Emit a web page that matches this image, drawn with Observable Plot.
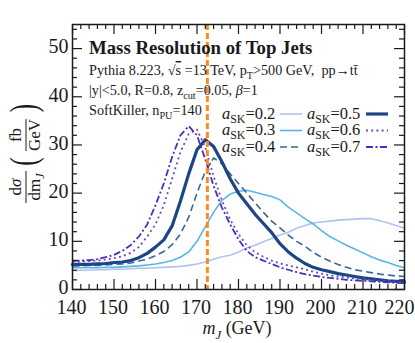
<!DOCTYPE html>
<html><head><meta charset="utf-8">
<script src="https://cdn.jsdelivr.net/npm/d3@7"></script>
<script src="https://cdn.jsdelivr.net/npm/@observablehq/plot@0.6"></script>
<style>html,body{margin:0;padding:0;background:#fff}svg{display:block}</style>
</head><body><div id="chart"></div>
<script>
// ---- data ----
const mJ = [140,142,144,146,148,150,152,154,156,158,160,162,164,166,168,170,172,174,176,178,180,
            182,184,186,188,190,192,194,196,198,200,202,204,206,208,210,212,214,216,218,220];
const aSK02 = [3.9,4.0,4.0,4.1,4.1,4.2,4.2,4.3,4.4,4.4,4.5,4.6,4.7,4.8,5.0,5.3,5.7,6.3,6.8,7.1,7.8,
               8.6,9.2,9.9,10.6,11.3,11.9,12.7,13.3,13.8,14.0,14.2,14.4,14.5,14.6,14.7,14.7,14.3,13.8,13.3,12.7];
const aSK03 = [4.5,4.5,4.5,4.5,4.6,4.6,4.7,4.8,4.9,5.1,5.3,5.6,6.0,6.7,7.8,10.0,13.0,16.0,18.5,19.8,20.4,
               20.6,20.2,19.7,19.3,18.6,17.1,15.9,14.7,13.6,12.2,11.0,10.1,9.2,8.4,7.6,6.8,6.1,5.6,5.0,4.5];
const aSK04 = [4.9,4.9,5.0,5.0,5.1,5.2,5.3,5.5,5.9,6.3,7.0,7.9,9.3,11.5,15.0,20.0,24.5,27.3,26.1,24.0,22.0,
               20.0,18.0,16.0,14.2,12.8,11.3,10.0,9.0,7.7,6.7,5.9,5.2,4.6,4.1,3.8,3.5,3.2,3.0,2.8,2.7];
const aSK05 = [5.2,5.2,5.2,5.3,5.4,5.6,5.7,6.0,6.6,7.5,8.8,10.3,13.2,18.3,24.0,29.0,31.1,29.7,26.5,23.0,20.0,
               17.8,15.6,13.7,11.8,9.5,7.8,6.5,5.4,4.6,4.1,3.7,3.3,3.0,2.7,2.4,2.2,2.0,1.8,1.7,1.6];
const aSK06 = [5.8,5.8,5.9,6.0,6.2,6.5,6.9,7.6,8.8,11.0,13.5,17.5,23.0,28.5,32.3,33.2,29.5,23.5,18.5,14.5,11.5,
               9.2,7.7,6.8,6.0,5.4,5.0,4.6,4.2,3.7,3.3,2.9,2.7,2.5,2.3,2.1,2.0,1.8,1.7,1.6,1.5];
const aSK07 = [6.0,6.0,6.1,6.3,6.7,7.2,8.0,9.2,11.0,13.5,17.5,22.0,27.5,32.0,33.9,32.0,27.0,21.5,17.0,13.5,10.4,
               8.0,6.7,6.0,5.3,4.6,4.1,3.6,3.2,2.9,2.6,2.4,2.2,2.0,1.9,1.8,1.7,1.6,1.5,1.4,1.3];
const seriesNames = ["0.2","0.3","0.4","0.5","0.6","0.7"];
const seriesValues = [aSK02,aSK03,aSK04,aSK05,aSK06,aSK07];
const topMass = 172.5;
const xTicks = [140,150,160,170,180,190,200,210,220];
const yTicks = [0,10,20,30,40,50];
const xMinor = [142,144,146,148,152,154,156,158,162,164,166,168,172,174,176,178,182,184,186,188,
                192,194,196,198,202,204,206,208,212,214,216,218];
const yMinor = [2,4,6,8,12,14,16,18,22,24,26,28,32,34,36,38,42,44,46,48,52,54];

// ---- styles ----
const styles = [
  {color:"#b2c2ef", width:1.6, dash:null},
  {color:"#58b6e6", width:1.6, dash:null},
  {color:"#3d6794", width:1.6, dash:"7,4"},
  {color:"#1b4584", width:3.2, dash:null},
  {color:"#6a4cb4", width:1.8, dash:"2,3.2"},
  {color:"#4a2ec4", width:1.8, dash:"7,2.5,2,2.5"}
];
const W = 415, H = 343, mL = 72, mR = 11, mT = 24, mB = 54;
const fw = W - mL - mR, fh = H - mT - mB;
const serif = "'Liberation Serif','Times New Roman',serif";
const ink = "#1a1a1a";

const table = seriesNames.map((n,i)=> mJ.map((m,j)=>({m, v: seriesValues[i][j], s: n})));

const marks = [];
table.forEach((rows,i)=>{
  const st = styles[i];
  marks.push(Plot.line(rows, {x:"m", y:"v", stroke: st.color, strokeWidth: st.width,
    strokeDasharray: st.dash, strokeLinejoin:"round", strokeLinecap: st.dash ? "butt" : "round"}));
});
marks.push(Plot.ruleX([topMass], {x: d=>d, stroke:"#ff8a1c", strokeWidth:3, strokeDasharray:"6,3"}));
// inward ticks on all four sides
const tk = {stroke: ink, strokeWidth: 1.2};
marks.push(Plot.tickX(xTicks, {x:d=>d, insetTop: fh-10, ...tk}));
marks.push(Plot.tickX(xTicks, {x:d=>d, insetBottom: fh-10, ...tk}));
marks.push(Plot.tickX(xMinor, {x:d=>d, insetTop: fh-5, ...tk}));
marks.push(Plot.tickX(xMinor, {x:d=>d, insetBottom: fh-5, ...tk}));
marks.push(Plot.tickY(yTicks, {y:d=>d, insetRight: fw-10, ...tk}));
marks.push(Plot.tickY(yTicks, {y:d=>d, insetLeft: fw-10, ...tk}));
marks.push(Plot.tickY(yMinor, {y:d=>d, insetRight: fw-5, ...tk}));
marks.push(Plot.tickY(yMinor, {y:d=>d, insetLeft: fw-5, ...tk}));
const axFont = {fontSize:20, fontFamily:serif, label:null, fill: ink, tickSize:0};
marks.push(Plot.axisX(xTicks.slice(0,-1), {...axFont, tickPadding:10, dx:-1}));
marks.push(Plot.axisX(xTicks.slice(-1), {...axFont, tickPadding:10, dx:-5}));
marks.push(Plot.axisY(yTicks, {...axFont, tickPadding:4, dy:-1.5}));
marks.push(Plot.frame({stroke: ink, strokeWidth:1.5}));

const svg = Plot.plot({
  width: W, height: H, marginLeft: mL, marginRight: mR, marginTop: mT, marginBottom: mB,
  x: {domain:[140,220]}, y: {domain:[0,55]},
  style: {fontFamily: serif, background:"#fff", color: ink},
  marks
});
document.getElementById("chart").appendChild(svg);

// ---- annotations ----
const s = d3.select(svg);
function rich(g, x, y, size, parts, anchor) {
  const t = g.append("text").attr("x",x).attr("y",y).attr("font-size",size)
    .attr("font-family",serif).attr("fill",ink).attr("text-anchor", anchor || "start");
  let shift = 0;
  for (const p of parts) {
    const ts = t.append("tspan").text(p.t);
    const target = p.sub ? size*0.26 : 0;
    if (target !== shift) { ts.attr("dy", target - shift); shift = target; }
    if (p.sub) ts.attr("font-size", size*0.72);
    if (p.it) ts.attr("font-style","italic");
    if (p.over) ts.attr("text-decoration","overline");
  }
  return t;
}
const ann = s.append("g");
rich(ann, 89, 54, 18.8, [{t:"Mass Resolution of Top Jets"}]).attr("font-weight","bold");
rich(ann, 89, 75, 14.2, [{t:"Pythia 8.223, \u221A"},{t:"s",over:true},{t:" =13 TeV, p"},{t:"T",sub:true},
  {t:">500 GeV,\u00A0\u00A0pp\u2192t"},{t:"t\u0304"}]);
rich(ann, 89, 95, 14.2, [{t:"|y|<5.0, R=0.8, z"},{t:"cut",sub:true},{t:"=0.05, "},{t:"\u03B2",it:true},{t:"=1"}]);
rich(ann, 89, 115, 14.2, [{t:"SoftKiller, n"},{t:"PU",sub:true},{t:"=140"}]);

// legend
const lg = s.append("g");
seriesNames.forEach((n,i)=>{
  const col = i<3?0:1, row = i%3;
  const ry = 114 + row*16.5;
  const tx = [222,307][col], l1 = [280,366][col], l2 = [302,388][col];
  rich(lg, tx, ry+4.5, 16.5, [{t:"a",it:true},{t:"SK",sub:true},{t:"="+n}]);
  const st = styles[i];
  lg.append("line").attr("x1",l1).attr("x2",l2).attr("y1",ry).attr("y2",ry)
    .attr("stroke",st.color).attr("stroke-width",st.width).attr("stroke-dasharray",st.dash);
});

// x label
rich(ann, 237, 334, 18, [{t:"m",it:true},{t:"J",sub:true,it:true},{t:" (GeV)"}], "middle");

// y label (rotated)
const yl = s.append("g").attr("transform","translate(26,157) rotate(-90)");
const fs = 17;
rich(yl, -30, -5, fs, [{t:"d"},{t:"\u03C3",it:true}], "middle");
yl.append("line").attr("x1",-46).attr("x2",-14).attr("y1",0).attr("y2",0).attr("stroke",ink).attr("stroke-width",1);
rich(yl, -30, 14, fs, [{t:"dm"},{t:"J",sub:true,it:true}], "middle");
yl.append("text").attr("x",-7).attr("y",10).attr("font-size",38).attr("font-family",serif)
  .attr("fill",ink).attr("text-anchor","middle").attr("transform","scale(0.65,1)").text("(");
rich(yl, 22, -5, fs, [{t:"fb"}], "middle");
yl.append("line").attr("x1",6).attr("x2",38).attr("y1",0).attr("y2",0).attr("stroke",ink).attr("stroke-width",1);
rich(yl, 22, 14, fs, [{t:"GeV"}], "middle");
yl.append("text").attr("x",75).attr("y",10).attr("font-size",38).attr("font-family",serif)
  .attr("fill",ink).attr("text-anchor","middle").attr("transform","scale(0.65,1)").text(")");
</script>
</body></html>
